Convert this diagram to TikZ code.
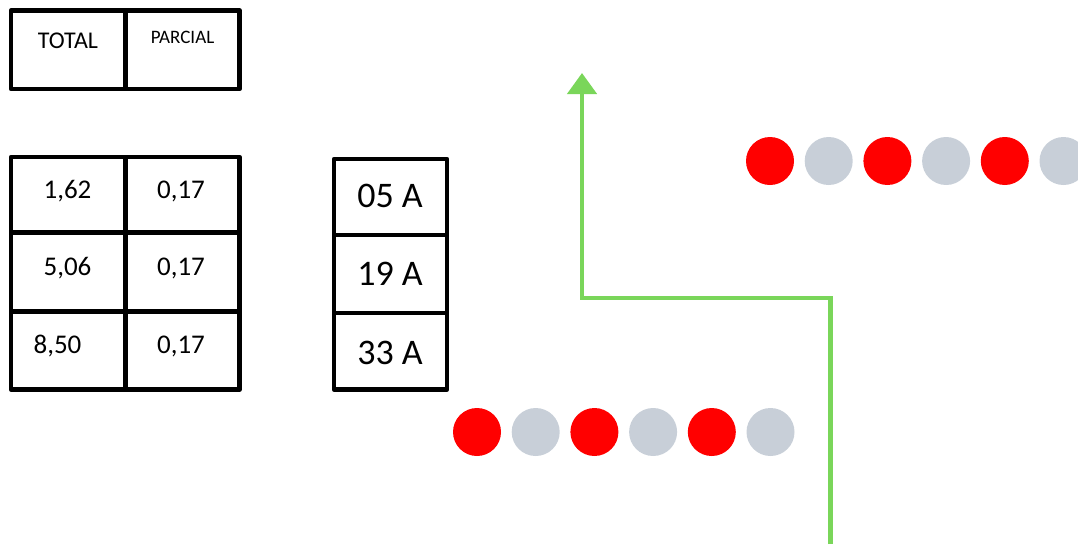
\documentclass[tikz,border=0pt]{standalone}
\usepackage{fontspec}
\setmainfont{Carlito}
\usepackage[HTML]{xcolor}
\usetikzlibrary{arrows.meta}
\definecolor{dotred}{HTML}{FF0000}
\definecolor{dotgray}{HTML}{C8CFD8}
\definecolor{pathgreen}{HTML}{7AD65A}

\begin{document}
\begin{tikzpicture}[x=1pt,y=-1pt,
  grid/.style={line width=4.5pt,line join=round},
  val/.style={anchor=base,inner sep=0pt,font=\fontsize{27}{30}\selectfont},
  amp/.style={anchor=base,inner sep=0pt,font=\fontsize{36}{40}\selectfont}]
\useasboundingbox (0,0) rectangle (1078,544);

% header boxes
\draw[grid] (11,10.5) rectangle (239.5,89);
\draw[grid] (125.5,10.5)--(125.5,89);
\node[anchor=base,inner sep=0pt,font=\fontsize{24}{28}\selectfont] (total) at (68,48) {TOTAL};
\node[anchor=base,inner sep=0pt,font=\fontsize{19}{22}\selectfont] (parcial) at (182.5,43) {PARCIAL};

% values table
\draw[grid] (11,157) rectangle (239.5,389.5);
\draw[grid] (125.5,157)--(125.5,389.5);
\draw[grid] (11,232.5)--(239.5,232.5);\draw[grid] (11,311.5)--(239.5,311.5);
\node[val] (t1) at (67.5,198) {1,62}; \node[val] (p1) at (181,198) {0,17};
\node[val] (t2) at (67.5,275) {5,06}; \node[val] (p2) at (181,275) {0,17};
\node[val] (t3) at (57.5,353) {8,50}; \node[val] (p3) at (181,353) {0,17};

% current boxes
\draw[grid] (334,159) rectangle (447,389.5);
\draw[grid] (334,235)--(447,235);\draw[grid] (334,313)--(447,313);
\node[amp] (a1) at (390,207) {05 A};
\node[amp] (a2) at (390,285) {19 A};
\node[amp] (a3) at (390,364) {33 A};

% green route
\draw[line width=4.5pt,pathgreen,-{Triangle[width=29pt,length=21pt]}]
  (830.5,544)--(830.5,298)--(582,298)--(582,73);

% dots
\foreach \i/\c in {0/dotred,1/dotgray,2/dotred,3/dotgray,4/dotred,5/dotgray}{
  \fill[\c] (770+58.7*\i,161) circle (24);
  \fill[\c] (477+58.7*\i,432) circle (24);
}

\end{tikzpicture}
\end{document}
